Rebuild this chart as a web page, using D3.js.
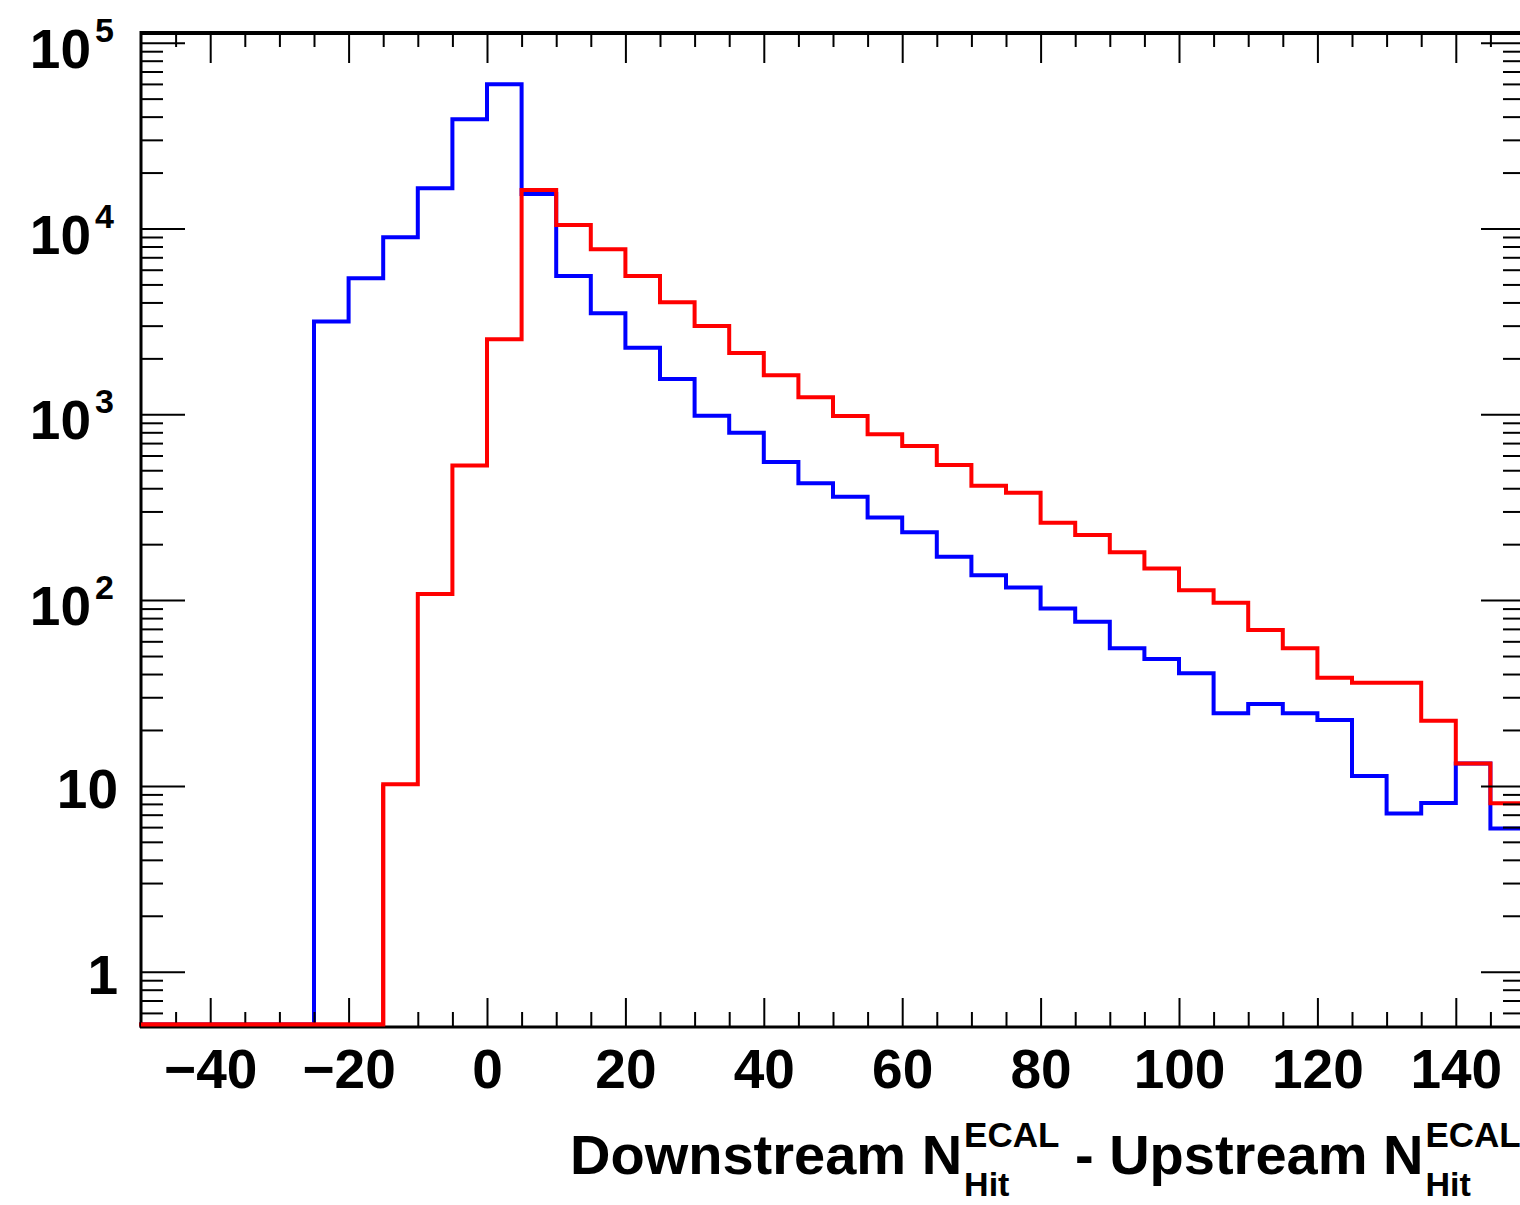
<!DOCTYPE html>
<html>
<head>
<meta charset="utf-8">
<script src="https://cdn.jsdelivr.net/npm/d3@7"></script>
<style>
  html, body { margin: 0; padding: 0; background: #fff; }
  svg { display: block; }
  text { font-family: "Liberation Sans", Arial, Helvetica, sans-serif; font-weight: bold; fill: #000; }
</style>
</head>
<body>
<svg id="chart" width="1520" height="1205"></svg>
<script>
// ---------- data ----------
const binStarts = [-50,-45,-40,-35,-30,-25,-20,-15,-10,-5,0,5,10,15,20,25,30,35,40,45,
                   50,55,60,65,70,75,80,85,90,95,100,105,110,115,120,125,130,135,140,145];
const binWidth = 5;
const blueCounts = [0,0,0,0,0, 3160,5400,8980,16450,38700,59700,15350,5550,3500,2280,1549,983,796,553,425,
                    360,278,232,171,136,117,90,76.5,55,48.2,40.4,24.6,27.6,24.6,22.6,11.3,7.1,8.1,13.2,5.9];
const redCounts  = [0,0,0,0,0,0,0, 10.2,108,531,2533,16100,10440,7730,5550,4010,2990,2137,1622,1235,
                    980,780,675,533,413,378,261,224,181,148,113,96.8,69,55,38.2,35.9,35.9,22.4,13.2,8.06];
const xMajorTicks = [-40,-20,0,20,40,60,80,100,120,140];
const xMinorTicks = [-45,-35,-30,-25,-15,-10,-5,5,10,15,25,30,35,45,50,55,65,70,75,85,90,95,105,110,115,125,130,135,145];
const yMajorTicks = [1,10,100,1000,10000,100000];
const yMinorTicks = [0.6,0.7,0.8,0.9,2,3,4,5,6,7,8,9,20,30,40,50,60,70,80,90,200,300,400,500,600,700,800,900,
                     2000,3000,4000,5000,6000,7000,8000,9000,20000,30000,40000,50000,60000,70000,80000,90000];
const xTitleParts = ["Downstream N", "ECAL", "Hit", " - Upstream N", "ECAL", "Hit"];

// ---------- layout ----------
const L = 141, R = 1525, T = 33, B = 1026;
const svg = d3.select("#chart");
const x = d3.scaleLinear().domain([-50, 150]).range([L, R]);
const y = d3.scaleLog().domain([1, 1e5]).range([971.7, 42.7]);
const yBottomLine = 1024.5;
const yv = v => v > 0 ? Math.min(y(v), yBottomLine) : yBottomLine;

// ---------- histograms ----------
function histPoints(counts) {
  const pts = binStarts.map((s, i) => [x(s), yv(counts[i])]);
  const last = binStarts.length - 1;
  pts.push([x(binStarts[last] + binWidth), yv(counts[last])]);
  return pts;
}
const line = d3.line().curve(d3.curveStepAfter);
svg.append("path").attr("d", line(histPoints(blueCounts)))
  .attr("fill", "none").attr("stroke", "#0000ff").attr("stroke-width", 4)
  .attr("stroke-linejoin", "miter").attr("stroke-linecap", "square");
svg.append("path").attr("d", line(histPoints(redCounts)))
  .attr("fill", "none").attr("stroke", "#ff0000").attr("stroke-width", 4)
  .attr("stroke-linejoin", "miter").attr("stroke-linecap", "square");

// ---------- axes (ticks inward) ----------
function styleAxis(g) {
  g.select(".domain").remove();
  g.selectAll(".tick line").attr("stroke", "#000").attr("stroke-width", 2);
}
// bottom
svg.append("g").attr("transform", `translate(0,${B})`)
  .call(d3.axisBottom(x).tickValues(xMinorTicks).tickSize(-14).tickFormat(""))
  .call(styleAxis).selectAll("text").remove();
const gxb = svg.append("g").attr("transform", `translate(0,${B})`)
  .call(d3.axisBottom(x).tickValues(xMajorTicks).tickSize(-28)
        .tickFormat(d => d < 0 ? "\u2212" + Math.abs(d) : String(d)))
  .call(styleAxis);
gxb.selectAll(".tick text").attr("y", 62).attr("dy", 0)
  .attr("font-size", 55).attr("font-family", null).attr("fill", "#000");
// top
svg.append("g").attr("transform", `translate(0,${T})`)
  .call(d3.axisTop(x).tickValues(xMinorTicks).tickSize(-14).tickFormat(""))
  .call(styleAxis).selectAll("text").remove();
svg.append("g").attr("transform", `translate(0,${T})`)
  .call(d3.axisTop(x).tickValues(xMajorTicks).tickSize(-30).tickFormat(""))
  .call(styleAxis).selectAll("text").remove();
// left
svg.append("g").attr("transform", `translate(${L},0)`)
  .call(d3.axisLeft(y).tickValues(yMinorTicks).tickSize(-22).tickFormat(""))
  .call(styleAxis).selectAll("text").remove();
svg.append("g").attr("transform", `translate(${L},0)`)
  .call(d3.axisLeft(y).tickValues(yMajorTicks).tickSize(-44).tickFormat(""))
  .call(styleAxis).selectAll("text").remove();
// right
svg.append("g").attr("transform", `translate(${R},0)`)
  .call(d3.axisRight(y).tickValues(yMinorTicks).tickSize(-22).tickFormat(""))
  .call(styleAxis).selectAll("text").remove();
svg.append("g").attr("transform", `translate(${R},0)`)
  .call(d3.axisRight(y).tickValues(yMajorTicks).tickSize(-44).tickFormat(""))
  .call(styleAxis).selectAll("text").remove();

// frame
svg.append("line").attr("x1", L).attr("x2", R + 2).attr("y1", T).attr("y2", T)
  .attr("stroke", "#000").attr("stroke-width", 4);
svg.append("line").attr("x1", L).attr("x2", L).attr("y1", T - 2).attr("y2", B + 2)
  .attr("stroke", "#000").attr("stroke-width", 3);
svg.append("line").attr("x1", L - 1).attr("x2", R + 2).attr("y1", B + 1).attr("y2", B + 1)
  .attr("stroke", "#000").attr("stroke-width", 3);
svg.append("line").attr("x1", R).attr("x2", R).attr("y1", T).attr("y2", B)
  .attr("stroke", "#000").attr("stroke-width", 3);
// red histogram segment that lies on the bottom edge is drawn above the axis line
svg.append("path").attr("d", line(histPoints(redCounts).filter((p, i) => i <= 7)))
  .attr("fill", "none").attr("stroke", "#ff0000").attr("stroke-width", 4);

// y labels
const ylab = svg.append("g");
yMajorTicks.forEach(v => {
  const p = Math.round(Math.log10(v));
  const ty = y(v);
  if (p <= 1) {
    ylab.append("text").attr("x", 118).attr("y", ty + 22).attr("text-anchor", "end")
      .attr("font-size", 55).text(String(v));
  } else {
    ylab.append("text").attr("x", 91).attr("y", ty + 25).attr("text-anchor", "end")
      .attr("font-size", 55).text("10");
    ylab.append("text").attr("x", 95).attr("y", ty - 1).attr("text-anchor", "start")
      .attr("font-size", 34).text(String(p));
  }
});

// x title with super/subscripts
const tg = svg.append("g");
let cx = 570;
const baseY = 1174, supY = 1147, subY = 1196;
for (let i = 0; i < xTitleParts.length; i += 3) {
  const main = tg.append("text").attr("x", cx).attr("y", baseY).attr("font-size", 56)
    .attr("xml:space", "preserve").style("white-space", "pre").text(xTitleParts[i]);
  cx += main.node().getComputedTextLength() + 2;
  const sup = tg.append("text").attr("x", cx).attr("y", supY).attr("font-size", 35).text(xTitleParts[i + 1]);
  const sub = tg.append("text").attr("x", cx).attr("y", subY).attr("font-size", 34).text(xTitleParts[i + 2]);
  cx += Math.max(sup.node().getComputedTextLength(), sub.node().getComputedTextLength());
}
</script>
</body>
</html>
